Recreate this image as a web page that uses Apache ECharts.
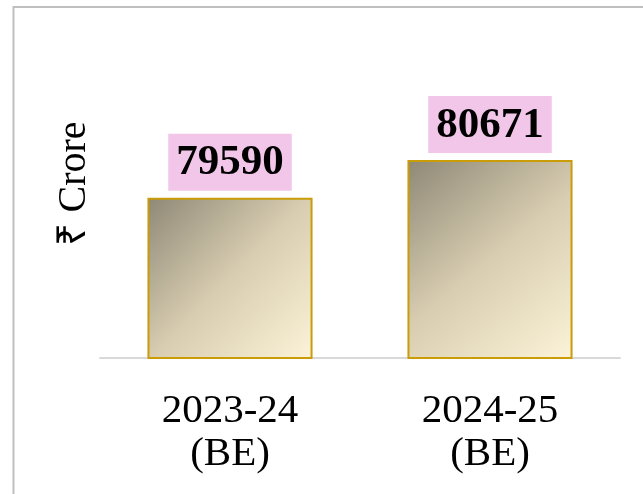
<!DOCTYPE html>
<html><head><meta charset="utf-8">
<script src="https://cdn.jsdelivr.net/npm/echarts@6/dist/echarts.min.js"></script>
<style>html,body{margin:0;padding:0;background:#fff;}#c{width:643px;height:494px;}</style>
</head><body><div id="c"></div>
<script>
const categories = ['2023-24\n(BE)', '2024-25\n(BE)'];
const values = [79590, 80671];
const yName = '₹ Crore';
const serif = '"Liberation Serif","Times New Roman",serif';

const chart = echarts.init(document.getElementById('c'));
chart.setOption({
  animation: false,
  backgroundColor: '#fff',
  graphic: [{
    type: 'rect', z: 100,
    shape: { x: 13.5, y: 7, width: 700, height: 600 },
    style: { fill: 'none', stroke: '#bfbfbf', lineWidth: 2 }
  }],
  grid: { left: 100, right: 23, top: 9, bottom: 136 },
  xAxis: {
    type: 'category', data: categories,
    axisLine: { lineStyle: { color: '#d9d9d9', width: 2 } },
    axisTick: { show: false },
    axisLabel: { fontFamily: serif, fontSize: 41, lineHeight: 43, color: '#000', margin: 32 }
  },
  yAxis: {
    type: 'value', min: 75000, max: 85000,
    name: yName, nameLocation: 'middle', nameRotate: 90, nameGap: 2,
    nameTextStyle: { fontFamily: serif, fontSize: 40, color: '#000', padding: [0, 0, 4, 0] },
    axisLabel: { show: false }, axisLine: { show: false }, axisTick: { show: false },
    splitLine: { show: false }
  },
  series: [{
    type: 'bar', data: values, barWidth: '63.5%',
    itemStyle: {
      borderColor: '#c99c08', borderWidth: 2,
      color: new echarts.graphic.LinearGradient(0, 0, 1, 1, [
        { offset: 0, color: '#8e8876' },
        { offset: 0.5, color: '#d8cdb1' },
        { offset: 1, color: '#fcf3d8' }
      ])
    },
    label: {
      show: true, position: 'top', distance: 7,
      fontFamily: serif, fontSize: 43, fontWeight: 'bold', color: '#000',
      backgroundColor: '#f2c6e8', padding: [5, 8, 3, 8], lineHeight: 49
    }
  }]
});
</script></body></html>
